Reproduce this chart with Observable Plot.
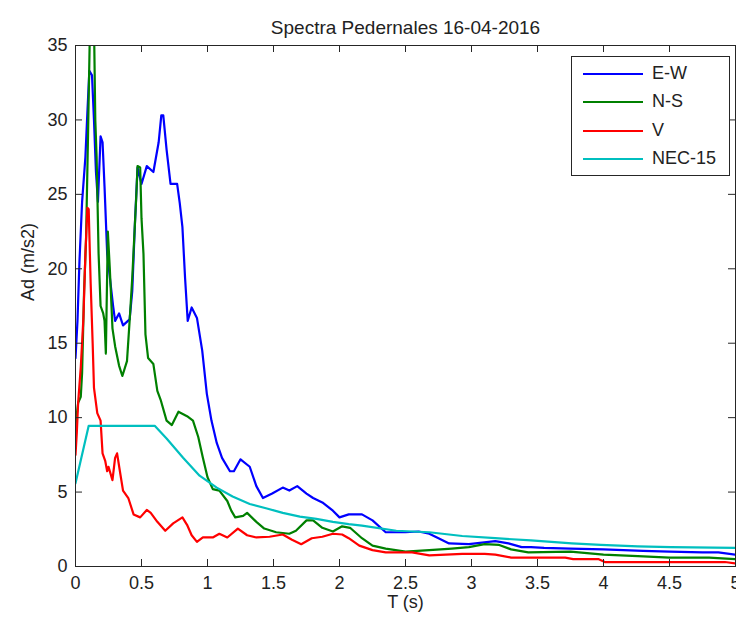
<!DOCTYPE html>
<html>
<head>
<meta charset="utf-8">
<script src="https://cdn.jsdelivr.net/npm/d3@7"></script>
<script src="https://cdn.jsdelivr.net/npm/@observablehq/plot@0.6"></script>
<style>
  html, body { margin: 0; padding: 0; background: #fff; overflow: hidden; }
  #wrap { position: relative; width: 736px; height: 620px; }
  #legend { position: absolute; left: 571px; top: 56px; width: 159px; height: 120px;
    border: 1px solid #262626; background: #fff; box-sizing: border-box;
    font-family: "Liberation Sans", Arial, sans-serif; font-size: 18px; color: #222; }
  .entry { position: absolute; left: 0; height: 20px; }
  .entry .sw { position: absolute; left: 11px; width: 60px; height: 0; border-top: 2.4px solid; top: 9px; }
  .entry .lb { position: absolute; left: 80px; top: -1px; white-space: nowrap; }
</style>
</head>
<body>
<div id="wrap"></div>
<script>
const titleText = "Spectra Pedernales 16-04-2016";
const xLabel = "T (s)";
const yLabel = "Ad (m/s2)";
const xTicks = [0, 0.5, 1, 1.5, 2, 2.5, 3, 3.5, 4, 4.5, 5];
const yTicks = [0, 5, 10, 15, 20, 25, 30, 35];
const seriesNames = ["E-W", "N-S", "V", "NEC-15"];
const seriesColors = ["#0000ff", "#008000", "#ff0000", "#00bfbf"];

// E-W spectrum [T (s), Ad (m/s2)]
const ew = [[0,14.0],[0.015,16.5],[0.03,20.5],[0.05,24.5],[0.075,27.5],[0.09,30.5],[0.105,33.3],[0.125,33.0],
  [0.14,30.0],[0.155,26.5],[0.17,24.5],[0.19,28.9],[0.205,28.5],[0.22,25.5],[0.24,21.0],[0.285,17.5],[0.30,16.5],
  [0.33,17.0],[0.36,16.2],[0.41,16.6],[0.43,18.5],[0.45,23.0],[0.47,26.8],[0.50,25.7],[0.54,26.9],[0.59,26.5],
  [0.63,28.5],[0.65,30.3],[0.665,30.3],[0.69,28.0],[0.72,25.7],[0.77,25.7],[0.79,24.4],[0.81,22.8],[0.83,19.4],
  [0.85,16.5],[0.88,17.4],[0.92,16.7],[0.96,14.5],[0.995,11.6],[1.03,9.8],[1.07,8.3],[1.11,7.3],[1.17,6.4],
  [1.20,6.4],[1.25,7.2],[1.32,6.7],[1.37,5.4],[1.42,4.6],[1.49,4.9],[1.57,5.3],[1.62,5.1],[1.68,5.4],[1.75,4.9],
  [1.80,4.6],[1.87,4.3],[1.95,3.75],[2.00,3.3],[2.07,3.5],[2.17,3.5],[2.25,3.1],[2.35,2.3],[2.50,2.3],[2.60,2.35],
  [2.68,2.2],[2.75,1.9],[2.83,1.55],[2.98,1.5],[3.08,1.6],[3.18,1.7],[3.28,1.55],[3.38,1.3],[3.45,1.3],[3.55,1.25],
  [3.75,1.2],[4.0,1.15],[4.3,1.05],[4.5,1.0],[4.75,0.95],[4.87,0.95],[5.0,0.8]];

// N-S spectrum
const ns = [[0,9.5],[0.02,11.0],[0.04,11.4],[0.05,13],[0.065,18.5],[0.08,22],[0.095,29],[0.11,36.5],[0.14,36.5],
  [0.15,30],[0.16,27.5],[0.175,21],[0.19,17.5],[0.21,17],[0.22,16.5],[0.23,14.3],[0.245,22.5],[0.26,20],[0.28,16],
  [0.30,14.8],[0.33,13.5],[0.355,12.8],[0.39,13.8],[0.41,16.5],[0.43,19.4],[0.45,23],[0.46,24.8],[0.47,26.9],
  [0.49,26.8],[0.50,23.4],[0.515,21],[0.53,15.6],[0.55,14],[0.59,13.6],[0.62,11.8],[0.645,11.2],[0.69,9.8],
  [0.73,9.5],[0.78,10.4],[0.845,10.1],[0.89,9.8],[0.93,8.7],[0.965,7.3],[1.0,6.0],[1.04,5.2],[1.09,5.1],[1.15,4.4],
  [1.18,3.75],[1.21,3.3],[1.27,3.4],[1.30,3.6],[1.37,3.0],[1.43,2.55],[1.52,2.3],[1.62,2.2],[1.67,2.4],[1.75,3.1],
  [1.80,3.1],[1.87,2.6],[1.95,2.35],[2.02,2.7],[2.08,2.6],[2.17,1.9],[2.25,1.4],[2.35,1.2],[2.5,1.0],[2.68,1.1],
  [2.85,1.2],[2.98,1.3],[3.1,1.5],[3.21,1.45],[3.3,1.15],[3.43,0.95],[3.75,1.0],[4.0,0.8],[4.26,0.7],[4.5,0.6],
  [4.8,0.6],[5.0,0.5]];

// V spectrum
const vv = [[0,7.5],[0.01,9],[0.02,11],[0.04,13.4],[0.06,16.7],[0.075,21],[0.09,24.1],[0.10,24],[0.115,19],
  [0.13,15],[0.14,12],[0.165,10.3],[0.19,9.8],[0.205,7.6],[0.225,7.1],[0.24,6.4],[0.25,6.7],[0.28,5.8],[0.30,7.3],
  [0.315,7.6],[0.34,6.2],[0.36,5.1],[0.40,4.6],[0.44,3.5],[0.49,3.3],[0.54,3.8],[0.57,3.6],[0.62,3.0],[0.68,2.4],
  [0.74,2.9],[0.81,3.3],[0.845,2.8],[0.88,2.1],[0.92,1.65],[0.965,1.95],[1.04,1.95],[1.09,2.2],[1.15,1.95],
  [1.23,2.55],[1.30,2.1],[1.37,1.95],[1.47,2.0],[1.57,2.15],[1.64,1.8],[1.71,1.5],[1.79,1.9],[1.87,2.0],[1.95,2.2],
  [2.02,2.15],[2.07,1.9],[2.15,1.4],[2.25,1.1],[2.35,0.95],[2.55,0.95],[2.68,0.75],[2.93,0.85],[3.1,0.85],
  [3.18,0.8],[3.3,0.6],[3.45,0.6],[3.71,0.6],[3.77,0.5],[3.96,0.5],[4.01,0.3],[4.92,0.3],[5.0,0.2]];

// NEC-15 design spectrum
const nec = [[0,5.6],[0.1,9.45],[0.6,9.45],[0.69,8.6],[0.815,7.3],[0.94,6.1],[1.07,5.3],[1.19,4.7],[1.32,4.2],
  [1.45,3.9],[1.57,3.6],[1.7,3.35],[1.825,3.2],[1.95,3.0],[2.07,2.85],[2.17,2.75],[2.43,2.4],[2.68,2.3],
  [2.93,2.05],[3.18,1.9],[3.45,1.75],[3.76,1.55],[3.98,1.45],[4.26,1.35],[4.51,1.3],[5.0,1.25]];

const series = [ew, ns, vv, nec];

const W = 736, H = 620, mL = 75, mR = 1, mT = 45, mB = 54;
const plotW = W - mL - mR, plotH = H - mT - mB, tickLen = 7;
const font = "'Liberation Sans', Arial, sans-serif";

const lines = series.map((s, i) => Plot.line(s, {
  x: d => d[0], y: d => d[1], stroke: seriesColors[i], strokeWidth: 2.2, clip: true
}));

const chart = Plot.plot({
  width: W, height: H,
  marginLeft: mL, marginRight: mR, marginTop: mT, marginBottom: mB,
  style: { fontFamily: font, fontSize: "18px", color: "#222", background: "#fff" },
  x: { domain: [0, 5] },
  y: { domain: [0, 35] },
  marks: [
    ...lines,
    Plot.frame({ stroke: "#262626", strokeWidth: 1 }),
    Plot.tickY(yTicks, { y: d => d, insetRight: plotW - tickLen, stroke: "#262626" }),
    Plot.tickY(yTicks, { y: d => d, insetLeft: plotW - tickLen, stroke: "#262626" }),
    Plot.tickX(xTicks, { x: d => d, insetTop: plotH - tickLen, stroke: "#262626" }),
    Plot.tickX(xTicks, { x: d => d, insetBottom: plotH - tickLen, stroke: "#262626" }),
    Plot.axisY({ ticks: yTicks, tickSize: 0, tickPadding: 8, label: null, tickFormat: d => String(d), fontSize: 18 }),
    Plot.axisX({ ticks: xTicks, tickSize: 0, tickPadding: 10, label: null, tickFormat: d => String(d), fontSize: 18 }),
    Plot.text([titleText], { frameAnchor: "top", dy: -25, fontSize: 19, fill: "#222" }),
    Plot.text([xLabel], { frameAnchor: "bottom", dy: 41, fontSize: 18, fill: "#222" }),
    Plot.text([yLabel], { frameAnchor: "left", dx: -47, dy: -5, rotate: -90, fontSize: 18, fill: "#222" })
  ]
});

const wrap = document.getElementById("wrap");
wrap.appendChild(chart);

const legend = document.createElement("div");
legend.id = "legend";
seriesNames.forEach((name, i) => {
  const e = document.createElement("div");
  e.className = "entry";
  e.style.top = (7 + i * 28.3) + "px";
  const sw = document.createElement("div");
  sw.className = "sw";
  sw.style.borderTopColor = seriesColors[i];
  const lb = document.createElement("div");
  lb.className = "lb";
  lb.textContent = name;
  e.appendChild(sw); e.appendChild(lb);
  legend.appendChild(e);
});
wrap.appendChild(legend);
</script>
</body>
</html>
